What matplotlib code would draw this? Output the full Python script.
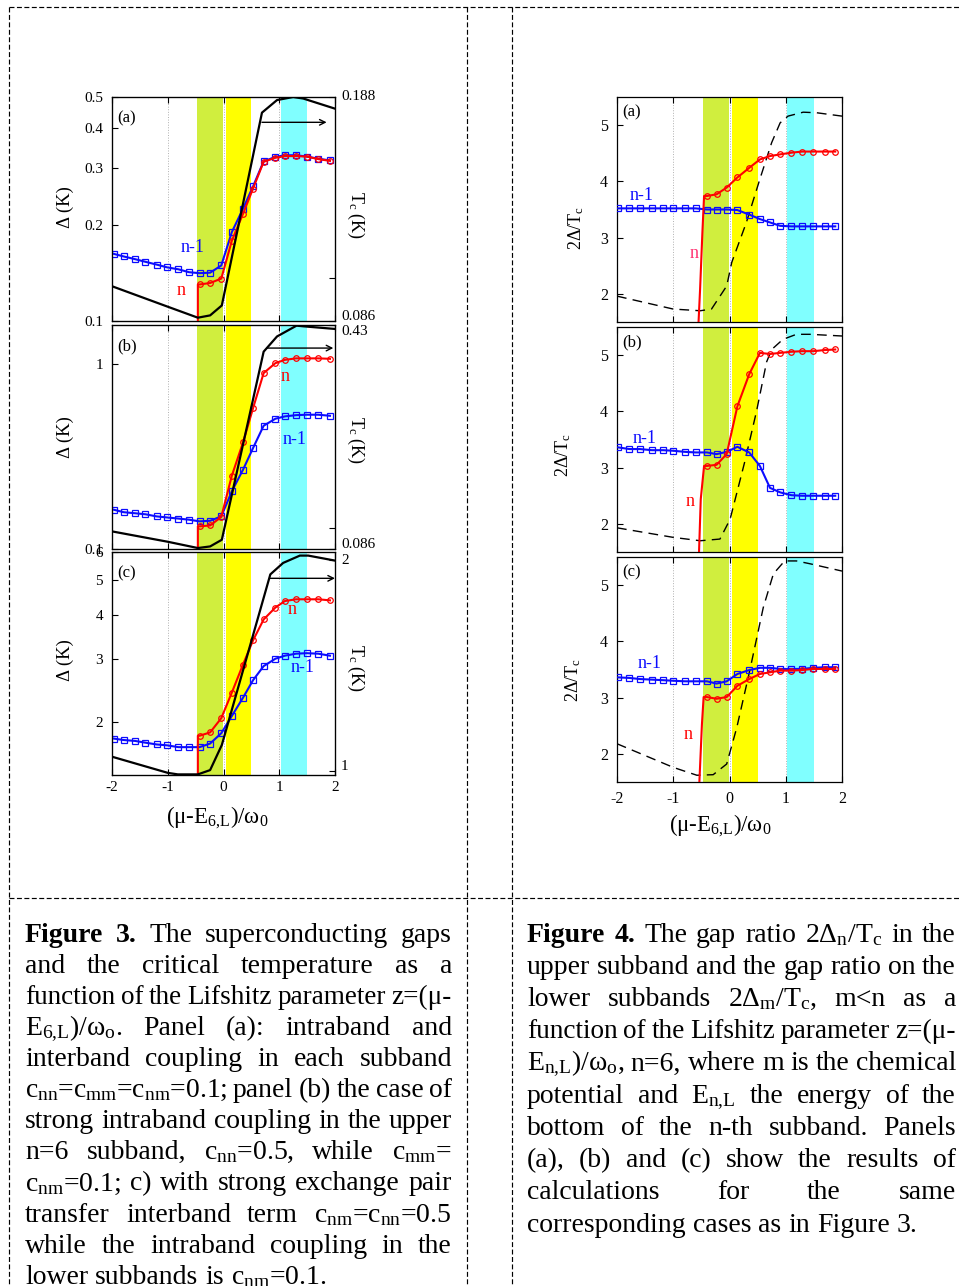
import numpy as np
import matplotlib
matplotlib.use('Agg')
import matplotlib.pyplot as plt
from matplotlib.ticker import NullLocator
from matplotlib.lines import Line2D
from matplotlib.transforms import IdentityTransform

plt.rcParams['font.family'] = ['Liberation Serif', 'DejaVu Serif']
plt.rcParams['mathtext.fontset'] = 'custom'
plt.rcParams['mathtext.rm'] = 'Liberation Serif'
plt.rcParams['mathtext.it'] = 'Liberation Serif:italic'
plt.rcParams['mathtext.bf'] = 'Liberation Serif:bold'

# ---------------- data: Figure 3 (gaps and Tc) ----------------
x3 = [-1.97, -1.79, -1.59, -1.40, -1.20, -1.01, -0.81, -0.62, -0.43, -0.24, -0.04,
      0.15, 0.35, 0.53, 0.72, 0.93, 1.10, 1.30, 1.49, 1.70, 1.91]
x3_n = x3[8:]
jump3_x = -0.46

gap_a_m = [0.162, 0.159, 0.156, 0.153, 0.150, 0.147, 0.145, 0.142, 0.141, 0.1415, 0.149,
           0.1895, 0.224, 0.263, 0.315, 0.325, 0.329, 0.329, 0.326, 0.321, 0.317]
gap_a_n = [0.130, 0.1314, 0.1356, 0.178, 0.216, 0.259, 0.314, 0.323, 0.327, 0.327, 0.326, 0.320, 0.316]
tc_a_x = [-2.0, -1.0, -0.46, -0.24, -0.03, 0.69, 0.96, 1.25, 1.43, 2.0]
tc_a = [0.0971, 0.0904, 0.0870, 0.0877, 0.0908, 0.178, 0.186, 0.188, 0.187, 0.1805]

gap_b_m = [0.163, 0.158, 0.156, 0.154, 0.150, 0.148, 0.146, 0.144, 0.141, 0.142, 0.150,
           0.205, 0.268, 0.351, 0.463, 0.505, 0.520, 0.528, 0.531, 0.531, 0.524]
gap_b_n = [0.1325, 0.134, 0.149, 0.249, 0.376, 0.576, 0.891, 1.008, 1.05, 1.07, 1.07, 1.07, 1.064]
tc_b_x = [-2.0, -1.0, -0.46, -0.24, -0.03, 0.72, 0.96, 1.31, 1.43, 2.0]
tc_b = [0.0976, 0.0906, 0.0866, 0.0876, 0.0919, 0.355, 0.396, 0.428, 0.426, 0.418]

gap_c_m = [1.797, 1.78, 1.77, 1.75, 1.73, 1.72, 1.70, 1.70, 1.70, 1.74, 1.86,
           2.08, 2.34, 2.62, 2.87, 3.01, 3.07, 3.11, 3.12, 3.11, 3.07]
gap_c_n = [1.83, 1.87, 2.05, 2.42, 2.90, 3.39, 3.88, 4.19, 4.37, 4.42, 4.42, 4.42, 4.39]
tc_c_x = [-2.0, -1.0, -0.82, -0.46, -0.24, -0.03, 0.84, 1.07, 1.37, 1.52, 2.0]
tc_c = [1.048, 0.994, 0.989, 0.989, 1.003, 1.089, 1.905, 1.978, 2.026, 2.026, 1.993]

# ---------------- data: Figure 4 (gap ratios) ----------------
x4 = [-1.98, -1.78, -1.59, -1.38, -1.18, -1.00, -0.79, -0.60, -0.40, -0.23, -0.05,
      0.14, 0.35, 0.54, 0.72, 0.90, 1.10, 1.29, 1.49, 1.69, 1.88]
x4_n = x4[8:]

ratio_a_m = [3.52, 3.52, 3.52, 3.52, 3.52, 3.52, 3.52, 3.52, 3.50, 3.50, 3.50,
             3.49, 3.41, 3.33, 3.27, 3.21, 3.20, 3.20, 3.20, 3.20, 3.20]
ratio_a_n = [3.74, 3.77, 3.89, 4.07, 4.24, 4.39, 4.45, 4.48, 4.51, 4.53, 4.53, 4.53, 4.53]
jump_a_x = [-0.555, -0.523, -0.482, -0.452]
jump_a_y = [1.40, 2.08, 3.09, 3.74]
tcs_a_x = [-2.0, -1.0, -0.52, -0.32, -0.05, 0.04, 0.30, 0.54, 0.75, 0.90, 1.04, 1.31, 1.55, 2.0]
tcs_a = [1.96, 1.73, 1.70, 1.73, 2.14, 2.56, 3.27, 4.04, 4.69, 5.04, 5.16, 5.23, 5.22, 5.16]

ratio_b_m = [3.36, 3.33, 3.33, 3.31, 3.31, 3.30, 3.28, 3.27, 3.27, 3.24, 3.28,
             3.37, 3.27, 3.03, 2.64, 2.56, 2.51, 2.50, 2.50, 2.50, 2.50]
ratio_b_n = [3.03, 3.05, 3.24, 4.09, 4.66, 5.04, 5.02, 5.04, 5.06, 5.07, 5.07, 5.09, 5.10]
jump_b_x = [-0.545, -0.511, -0.452]
jump_b_y = [1.40, 2.44, 3.03]
tcs_b_x = [-2.0, -1.0, -0.52, -0.17, 0.01, 0.27, 0.48, 0.66, 0.75, 0.95, 1.19, 1.43, 2.0]
tcs_b = [1.93, 1.76, 1.70, 1.73, 2.08, 3.10, 4.00, 4.88, 5.10, 5.28, 5.37, 5.37, 5.34]

ratio_c_m = [3.36, 3.35, 3.33, 3.32, 3.31, 3.30, 3.29, 3.29, 3.29, 3.25, 3.29,
             3.42, 3.49, 3.53, 3.53, 3.51, 3.51, 3.51, 3.53, 3.54, 3.54]
ratio_c_n = [3.01, 2.98, 3.01, 3.21, 3.33, 3.42, 3.45, 3.48, 3.48, 3.49, 3.51, 3.51, 3.51]
jump_c_x = [-0.54, -0.49, -0.46]
jump_c_y = [1.40, 2.53, 3.01]
tcs_c_x = [-2.0, -1.0, -0.58, -0.29, -0.05, 0.13, 0.36, 0.60, 0.78, 0.98, 1.19, 1.43, 2.0]
tcs_c = [2.18, 1.76, 1.62, 1.63, 1.82, 2.47, 3.48, 4.60, 5.20, 5.43, 5.43, 5.38, 5.25]

xticks = [-2, -1, 0, 1, 2]
bands = [(-0.47, -0.01, '#d0ee3e'), (0.04, 0.50, '#ffff00'), (1.03, 1.50, '#80ffff')]

BLUE = '#0c0cff'
RED = '#ff0000'

W, H = 960, 1286
fig = plt.figure(figsize=(W / 100, H / 100), dpi=100)


def rect(x0, y0, x1, y1):
    return [x0 / W, 1 - y1 / H, (x1 - x0) / W, (y1 - y0) / H]


def ptext(x, y, s, **kw):
    return fig.text(x / W, 1 - y / H, s, **kw)


def base_axes(r, bottom_labels, pad_x, lsize):
    ax = fig.add_axes(rect(*r))
    ax.set_xlim(-2, 2)
    ax.set_xticks(xticks)
    ax.set_xticklabels([str(v) for v in xticks])
    ax.xaxis.set_minor_locator(NullLocator())
    ax.tick_params(axis='both', which='both', direction='in', top=True, length=4,
                   width=0.8, labelsize=lsize, labelbottom=bottom_labels)
    ax.tick_params(axis='x', pad=pad_x)
    ax.tick_params(axis='y', pad=6.5)
    for s in ax.spines.values():
        s.set_linewidth(0.9)
    for a, b, c in bands:
        ax.axvspan(a, b, color=c, lw=0, zorder=0)
    for xv in (-1, 0, 1):
        ax.axvline(xv, color='#b0b0b0', lw=0.7, ls=':', zorder=0.5)
    return ax


# ---------------- Figure 3 panels ----------------
left_rects = [(112, 97, 335, 321), (112, 325, 335, 549), (112, 552, 335, 775)]
left_specs = [
    dict(m=gap_a_m, n=gap_a_n, low=0.08, tx=tc_a_x, tc=tc_a, ylim=(0.1, 0.5),
         yt=[0.1, 0.2, 0.3, 0.4, 0.5], ytl=['0.1', '0.2', '0.3', '0.4', '0.5'],
         y2lim=(0.086, 0.188), y2t=[0.086, 0.1, 0.188],
         y2lab=[('0.188', 97), ('0.086', 316)],
         lab='(a)', npos=(0.309, 0.134), mpos=(0.363, 0.33), arrow=(0.69, 1.85, 0.887)),
    dict(m=gap_b_m, n=gap_b_n, low=0.08, tx=tc_b_x, tc=tc_b, ylim=(0.1, 1.62),
         yt=[0.1, 1.0], ytl=['0.1', '1'],
         y2lim=(0.086, 0.43), y2t=[0.086, 0.1, 0.43],
         y2lab=[('0.43', 332), ('0.086', 545)],
         lab='(b)', npos=(0.775, 0.768), mpos=(0.821, 0.487), arrow=(0.78, 1.97, 0.897)),
    dict(m=gap_c_m, n=gap_c_n, low=1.3, tx=tc_c_x, tc=tc_c, ylim=(1.42, 6.0),
         yt=[2, 3, 4, 5, 6], ytl=['2', '3', '4', '5', '6'],
         y2lim=(0.987, 2.05), y2t=[1, 2],
         y2lab=[('2', 560), ('1', 767)],
         lab='(c)', npos=(0.807, 0.744), mpos=(0.855, 0.48), arrow=(0.84, 2.0, 0.882)),
]
for i, (r, sp) in enumerate(zip(left_rects, left_specs)):
    ax = base_axes(r, i == 2, 4, 11)
    ax.set_yscale('log')
    ax.set_ylim(*sp['ylim'])
    ax.set_yticks(sp['yt'])
    ax.set_yticklabels(sp['ytl'])
    ax.yaxis.set_minor_locator(NullLocator())
    ax.tick_params(axis='y', which='both', right=False)
    ax.plot(x3, sp['m'], color=BLUE, lw=1.5, marker='s', ms=4, mfc='none', mew=0.9, zorder=3)
    ax.plot([jump3_x, jump3_x] + x3_n, [sp['low'], sp['n'][0]] + sp['n'], color=RED, lw=1.5, zorder=4)
    ax.plot(x3_n, sp['n'], ls='none', color=RED, marker='o', ms=4, mfc='none', mew=0.9, zorder=4)
    ax.text(0.025, 0.905, sp['lab'], transform=ax.transAxes, fontsize=12, va='center', ha='left')
    ax.text(*sp['npos'], 'n', transform=ax.transAxes, fontsize=13, color=RED, ha='center', va='center')
    ax.text(*sp['mpos'], 'n-1', transform=ax.transAxes, fontsize=13, color=BLUE, ha='center', va='center')
    ax2 = ax.twinx()
    ax2.set_xlim(-2, 2)
    ax2.set_yscale('log')
    ax2.set_ylim(*sp['y2lim'])
    ax2.set_yticks(sp['y2t'])
    ax2.set_yticklabels([''] * len(sp['y2t']))
    ax2.yaxis.set_minor_locator(NullLocator())
    ax2.tick_params(axis='y', which='both', direction='in', length=4, width=0.8)
    ax2.plot(sp['tx'], sp['tc'], color='black', lw=1.6, zorder=2)
    for s, yy in sp['y2lab']:
        ptext(341, yy, s, fontsize=11, ha='left', va='center')
    a0, a1, ay = sp['arrow']
    ax2.annotate('', xy=(a1, ay), xytext=(a0, ay), xycoords=ax2.get_xaxis_transform(),
                 textcoords=ax2.get_xaxis_transform(),
                 arrowprops=dict(arrowstyle='->', color='black', lw=1.0, shrinkA=0, shrinkB=0))

XLAB = '(μ-E$_{\\mathrm{6{,}L}}$)/ω$_{\\mathrm{0}}$'
ptext(217, 818, XLAB, fontsize=16.5, ha='center', va='center')

for yy in [207, 437, 660]:
    ptext(65, yy, 'Δ (K)', rotation=90, fontsize=13.5, ha='center', va='center')
for yy in [215, 440, 668]:
    ptext(356, yy, 'T$_{\\mathrm{c}}$ (K)', rotation=-90, fontsize=13, ha='center', va='center')

# ---------------- Figure 4 panels ----------------
right_rects = [(617, 97, 842, 322), (617, 327, 842, 552), (617, 557, 842, 782)]
right_specs = [
    dict(m=ratio_a_m, n=ratio_a_n, jx=jump_a_x, jy=jump_a_y, tx=tcs_a_x, tc=tcs_a, lab='(a)',
         npos=(0.342, 0.305), mpos=(0.11, 0.56), ncol='#ff3070'),
    dict(m=ratio_b_m, n=ratio_b_n, jx=jump_b_x, jy=jump_b_y, tx=tcs_b_x, tc=tcs_b, lab='(b)',
         npos=(0.324, 0.224), mpos=(0.124, 0.505), ncol=RED),
    dict(m=ratio_c_m, n=ratio_c_n, jx=jump_c_x, jy=jump_c_y, tx=tcs_c_x, tc=tcs_c, lab='(c)',
         npos=(0.317, 0.209), mpos=(0.147, 0.528), ncol=RED),
]
for i, (r, sp) in enumerate(zip(right_rects, right_specs)):
    ax = base_axes(r, i == 2, 6.5, 11.5)
    ax.set_ylim(1.5, 5.5)
    ax.set_yticks([2, 3, 4, 5])
    ax.yaxis.set_minor_locator(NullLocator())
    ax.tick_params(axis='y', right=False)
    ax.plot(sp['tx'], sp['tc'], color='black', lw=1.0, dashes=(7, 4.5), zorder=2)
    ax.plot(x4, sp['m'], color=BLUE, lw=1.5, marker='s', ms=4, mfc='none', mew=0.9, zorder=3)
    ax.plot(sp['jx'] + x4_n, sp['jy'] + sp['n'], color=RED, lw=1.5, zorder=4)
    ax.plot(x4_n, sp['n'], ls='none', color=RED, marker='o', ms=4, mfc='none', mew=0.9, zorder=4)
    ax.text(0.025, 0.93, sp['lab'], transform=ax.transAxes, fontsize=12, va='center', ha='left')
    ax.text(*sp['npos'], 'n', transform=ax.transAxes, fontsize=13, color=sp['ncol'], ha='center', va='center')
    ax.text(*sp['mpos'], 'n-1', transform=ax.transAxes, fontsize=13, color=BLUE, ha='center', va='center')

ptext(720, 826, XLAB, fontsize=16.5, ha='center', va='center')
for xx, yy in [(576, 228), (563, 455), (573, 680)]:
    ptext(xx, yy, '2Δ/T$_{\\mathrm{c}}$', rotation=90, fontsize=13, ha='center', va='center')

# ---------------- table borders ----------------
dash = (0, (4.2, 2.1))
for (x0, y0, x1, y1) in [(9, 7, 960, 7), (9, 7, 9, 1286), (467, 7, 467, 1286),
                         (512, 7, 512, 1286), (9, 898, 960, 898)]:
    fig.add_artist(Line2D([x0 / W, x1 / W], [1 - y0 / H, 1 - y1 / H], transform=fig.transFigure,
                          color='black', lw=0.85, ls=dash))

# ---------------- captions (justified) ----------------
FS = 20.0
renderer = fig.canvas.get_renderer()


def put_line(tokens, x0, x1, ybase, justify=True, nbold=0):
    fs = FS
    for _ in range(6):
        texts = []
        for k, tok in enumerate(tokens):
            t = fig.text(0, 0, tok, fontsize=fs, fontweight='bold' if k < nbold else 'normal',
                         transform=IdentityTransform(), ha='left', va='baseline')
            texts.append(t)
        widths = [t.get_window_extent(renderer).width for t in texts]
        normal = 0.25 * fs * 100 / 72
        natural = sum(widths) + normal * 0.8 * (len(tokens) - 1)
        if natural <= (x1 - x0) + 0.5 or not justify:
            break
        for t in texts:
            t.remove()
        fs *= (x1 - x0) / natural
    if justify and len(tokens) > 1:
        gap = (x1 - x0 - sum(widths)) / (len(tokens) - 1)
    else:
        gap = normal
    x = x0
    for t, w in zip(texts, widths):
        t.set_position((x, H - ybase))
        x += w + gap


cap3 = [
    "Figure 3. The superconducting gaps",
    "and the critical temperature as a",
    "function of the Lifshitz parameter z=(μ-",
    "E$_{\\mathrm{6{,}L}}$)/ω$_{\\mathrm{o}}$. Panel (a): intraband and",
    "interband coupling in each subband",
    "c$_{\\mathrm{nn}}$=c$_{\\mathrm{mm}}$=c$_{\\mathrm{nm}}$=0.1; panel (b) the case of",
    "strong intraband coupling in the upper",
    "n=6 subband, c$_{\\mathrm{nn}}$=0.5, while c$_{\\mathrm{mm}}$=",
    "c$_{\\mathrm{nm}}$=0.1; c) with strong exchange pair",
    "transfer interband term c$_{\\mathrm{nm}}$=c$_{\\mathrm{nn}}$=0.5",
    "while the intraband coupling in the",
    "lower subbands is c$_{\\mathrm{nm}}$=0.1.",
]
cap4 = [
    "Figure 4. The gap ratio 2Δ$_{\\mathrm{n}}$/T$_{\\mathrm{c}}$ in the",
    "upper subband and the gap ratio on the",
    "lower subbands 2Δ$_{\\mathrm{m}}$/T$_{\\mathrm{c}}$, m<n as a",
    "function of the Lifshitz parameter z=(μ-",
    "E$_{\\mathrm{n{,}L}}$)/ω$_{\\mathrm{o}}$, n=6, where m is the chemical",
    "potential and E$_{\\mathrm{n{,}L}}$ the energy of the",
    "bottom of the n-th subband. Panels",
    "(a), (b) and (c) show the results of",
    "calculations for the same",
    "corresponding cases as in Figure 3.",
]
for k, line in enumerate(cap3):
    put_line(line.split(' '), 25, 452, 941.7 + 31.1 * k, justify=(k < len(cap3) - 1),
             nbold=2 if k == 0 else 0)
for k, line in enumerate(cap4):
    put_line(line.split(' '), 527, 956, 941.7 + 32.2 * k, justify=(k < len(cap4) - 1),
             nbold=2 if k == 0 else 0)

fig.savefig('out.png', dpi=100)
